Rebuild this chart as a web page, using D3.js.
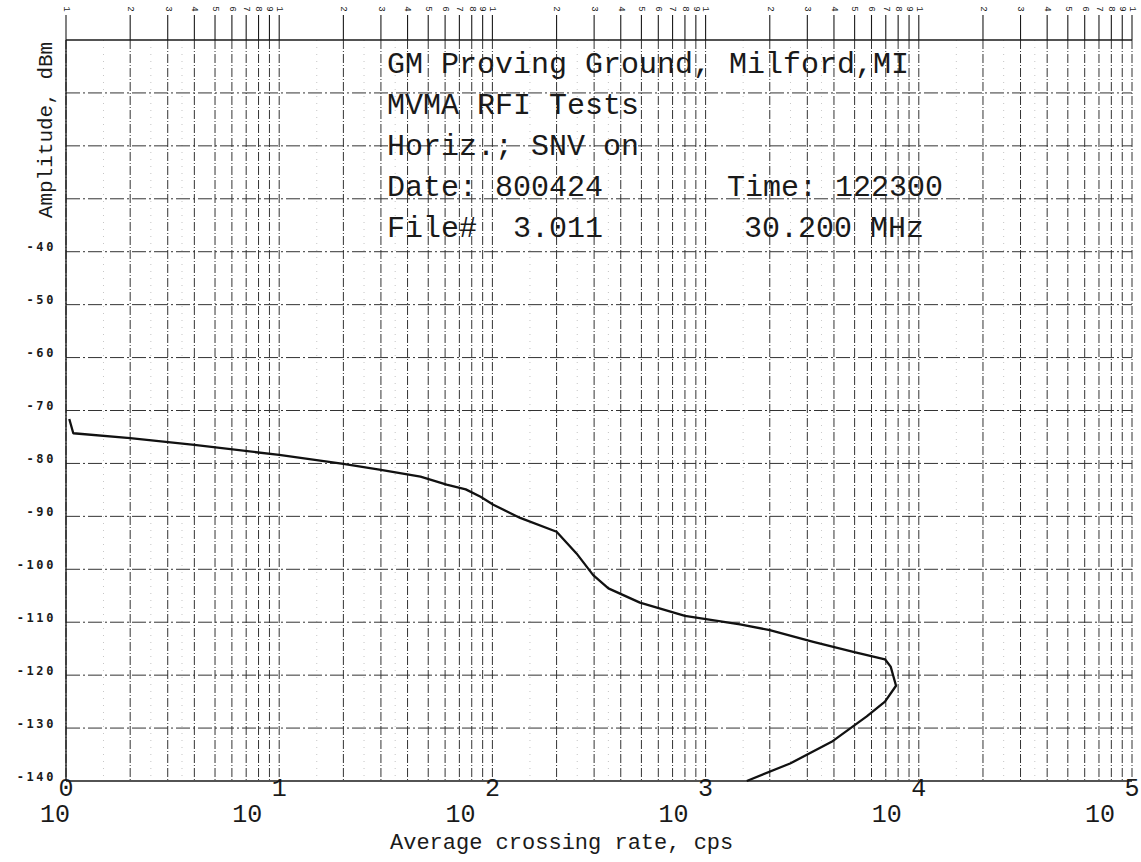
<!DOCTYPE html>
<html>
<head>
<meta charset="utf-8">
<script src="https://cdn.jsdelivr.net/npm/d3@7"></script>
<style>
  html, body { margin: 0; padding: 0; background: #fff; }
  svg { display: block; }
</style>
</head>
<body>
<svg id="chart" width="1141" height="862"></svg>
<script>
// Average level-crossing rate (cps) versus amplitude (dBm)
const crossingRate = [1.036, 1.082, 2.0, 4.0, 10, 20, 30, 46, 61, 75, 88, 101, 135, 200, 248, 297, 350, 492, 800, 1450, 2000, 3200, 4930, 6940, 7380, 7820, 6940, 5700, 3900, 2490, 1560];
const amplitude = [-71.6, -74.3, -75.2, -76.5, -78.4, -80.1, -81.2, -82.5, -84.0, -84.9, -86.3, -87.8, -90.3, -92.9, -97.0, -101.1, -103.6, -106.3, -108.8, -110.4, -111.5, -113.7, -115.6, -117.0, -118.4, -122.0, -125.0, -127.8, -132.6, -136.7, -140.0];

const decadeExponents = [0, 1, 2, 3, 4, 5];
const mantissas = [1, 2, 3, 4, 5, 6, 7, 8, 9];
const halfMantissas = [1.5, 2.5, 3.5];
const amplitudeTicks = [-40, -50, -60, -70, -80, -90, -100, -110, -120, -130, -140];
const gridLevels = [-10, -20, -30, -40, -50, -60, -70, -80, -90, -100, -110, -120, -130];

const headerLeft = ["GM Proving Ground, Milford,MI", "MVMA RFI Tests", "Horiz.; SNV on", "Date: 800424", "File#  3.011"];
const headerRight = [{ row: 3, text: "Time: 122300" }, { row: 4, text: "30.200 MHz" }];
const yTitle = "Amplitude, dBm";
const xTitle = "Average crossing rate, cps";

const svg = d3.select("#chart");
const plotLeft = 66, plotRight = 1132, plotTop = 40, plotBottom = 781;

const x = d3.scaleLog().domain([1, 1e5]).range([plotLeft, plotRight]);
const y = d3.scaleLinear().domain([-140, 0]).range([plotBottom, plotTop]);

const ink = "#1a1a1a";
const plotFont = "'Liberation Mono', 'DejaVu Sans Mono', monospace";

// every mantissa position across the five decades, plus the closing 10^5 line
const logTicks = [];
decadeExponents.slice(0, -1).forEach(e => mantissas.forEach(m => logTicks.push({ v: m * Math.pow(10, e), m })));
logTicks.push({ v: 1e5, m: 1 });
const halfTicks = [];
decadeExponents.slice(0, -1).forEach(e => halfMantissas.forEach(m => halfTicks.push(m * Math.pow(10, e))));

const grid = svg.append("g");

// faint half-step lines
grid.selectAll("line.half").data(halfTicks).join("line")
  .attr("class", "half")
  .attr("x1", d => x(d)).attr("x2", d => x(d))
  .attr("y1", plotTop).attr("y2", plotBottom)
  .attr("stroke", "#888").attr("stroke-width", 0.8)
  .attr("stroke-dasharray", "1,6").attr("opacity", 0.6);

// vertical mantissa grid
grid.selectAll("line.v").data(logTicks).join("line")
  .attr("class", "v")
  .attr("x1", d => x(d.v)).attr("x2", d => x(d.v))
  .attr("y1", plotTop).attr("y2", plotBottom)
  .attr("stroke", "#333").attr("stroke-width", 1)
  .attr("stroke-dasharray", "9,2,1,2");

// horizontal 10 dB grid
grid.selectAll("line.h").data(gridLevels).join("line")
  .attr("class", "h")
  .attr("x1", plotLeft).attr("x2", plotRight)
  .attr("y1", d => y(d)).attr("y2", d => y(d))
  .attr("stroke", "#333").attr("stroke-width", 1)
  .attr("stroke-dasharray", "14,3,2,3");

// frame lines: top, bottom, left
svg.append("line").attr("x1", plotLeft).attr("x2", plotRight).attr("y1", y(0)).attr("y2", y(0))
  .attr("stroke", ink).attr("stroke-width", 1.4);
svg.append("line").attr("x1", plotLeft).attr("x2", plotRight).attr("y1", y(-140)).attr("y2", y(-140))
  .attr("stroke", ink).attr("stroke-width", 1.4);
svg.append("line").attr("x1", plotLeft).attr("x2", plotLeft).attr("y1", y(0)).attr("y2", y(-140))
  .attr("stroke", ink).attr("stroke-width", 1.4);

// top tick marks with small rotated mantissa digits
const topTicks = svg.append("g");
topTicks.selectAll("line").data(logTicks).join("line")
  .attr("x1", d => x(d.v)).attr("x2", d => x(d.v))
  .attr("y1", 15).attr("y2", y(0))
  .attr("stroke", ink).attr("stroke-width", 1.1);
topTicks.selectAll("text").data(logTicks).join("text")
  .attr("transform", d => `translate(${x(d.v) + 1},${9}) rotate(90)`)
  .attr("text-anchor", "middle").attr("dy", "0.35em")
  .attr("font-family", plotFont).attr("font-size", 9)
  .attr("fill", ink)
  .text(d => d.m);

// amplitude axis labels
const yAxis = d3.axisLeft(y).tickValues(amplitudeTicks).tickSize(0).tickPadding(0).tickFormat(d => d);
const yg = svg.append("g").attr("transform", `translate(${plotLeft - 10},0)`).call(yAxis);
yg.select(".domain").remove();
yg.selectAll("text")
  .attr("dy", "-1")
  .attr("font-family", "'DejaVu Sans Mono', monospace")
  .attr("font-weight", "bold").attr("font-size", 12)
  .attr("letter-spacing", "2.6")
  .attr("fill", ink);

// rotated amplitude title
svg.append("text")
  .attr("transform", `translate(52,${130}) rotate(-90)`)
  .attr("text-anchor", "middle")
  .attr("font-family", plotFont).attr("font-size", 21)
  .attr("fill", ink)
  .text(yTitle);

// decade labels: "10" with the exponent raised beside it
const decadeG = svg.append("g").attr("font-family", plotFont).attr("font-size", 25).attr("fill", ink);
decadeG.selectAll("text.base").data(decadeExponents).join("text")
  .attr("class", "base")
  .attr("x", e => Math.max(x(Math.pow(10, e)) - 17, 70))
  .attr("y", 822)
  .attr("text-anchor", "end")
  .text("10");
decadeG.selectAll("text.exp").data(decadeExponents).join("text")
  .attr("class", "exp")
  .attr("x", e => x(Math.pow(10, e)))
  .attr("y", 796)
  .attr("text-anchor", "middle")
  .text(e => e);

svg.append("text")
  .attr("x", 390).attr("y", 849)
  .attr("font-family", plotFont).attr("font-size", 22)
  .attr("fill", ink)
  .text(xTitle);

// header block inside the plot
const header = svg.append("g").attr("font-family", plotFont).attr("font-size", 30).attr("fill", ink);
header.selectAll("text.l").data(headerLeft).join("text")
  .attr("class", "l")
  .attr("x", 387).attr("y", (d, i) => 73 + i * 41)
  .style("white-space", "pre")
  .text(d => d);
header.selectAll("text.r").data(headerRight).join("text")
  .attr("class", "r")
  .attr("x", (d, i) => i === 0 ? 727 : 744).attr("y", d => 73 + d.row * 41)
  .style("white-space", "pre")
  .text(d => d.text);

// crossing-rate curve
const points = crossingRate.map((r, i) => ({ r, a: amplitude[i] }));
svg.append("path")
  .datum(points)
  .attr("fill", "none")
  .attr("stroke", "#111")
  .attr("stroke-width", 2.3)
  .attr("stroke-linejoin", "round")
  .attr("d", d3.line().x(d => x(d.r)).y(d => y(d.a)));
</script>
</body>
</html>
